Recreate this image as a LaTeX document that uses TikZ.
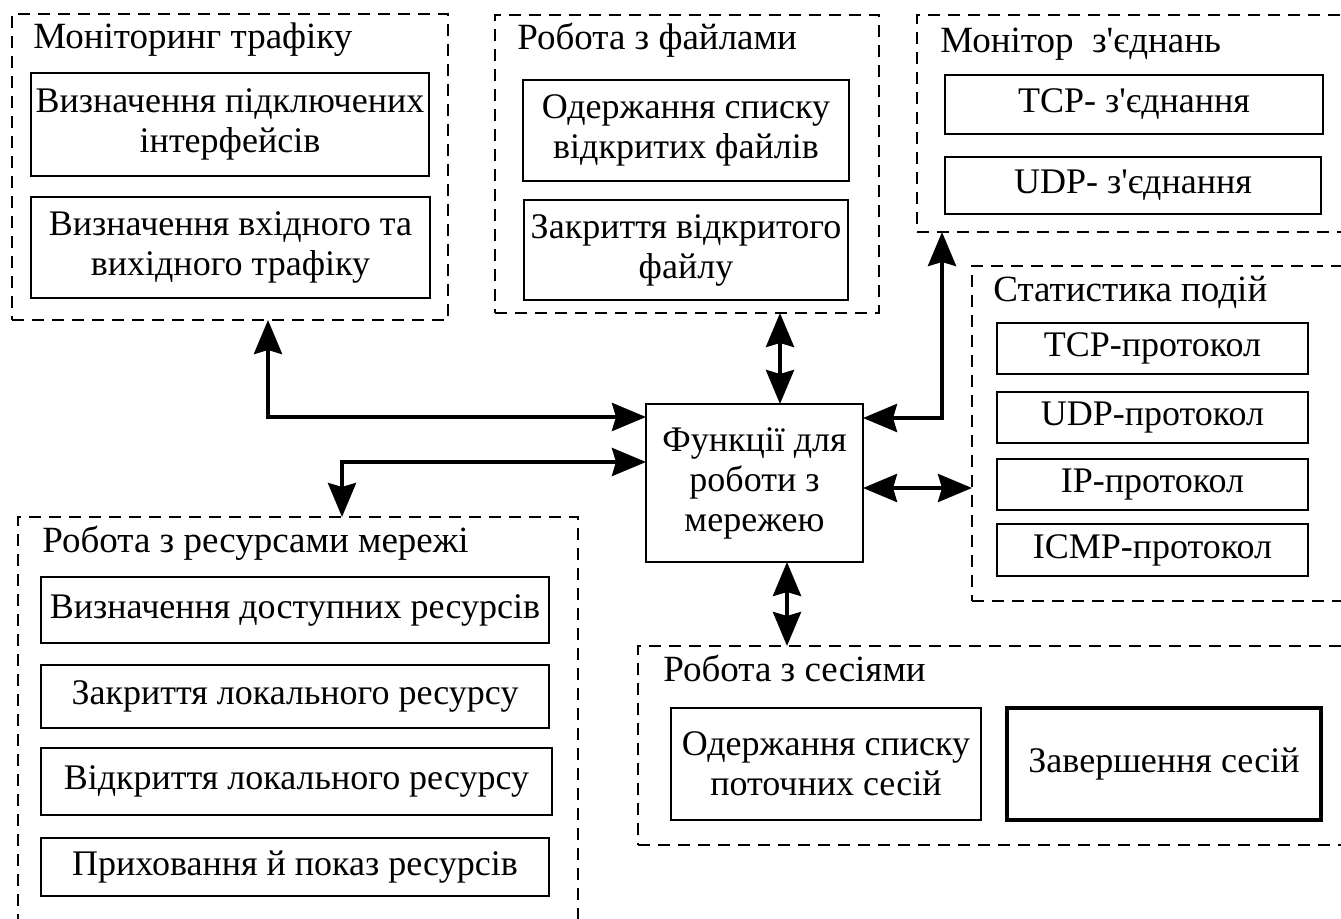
\documentclass[tikz,border=0pt]{standalone}
\usepackage{fontspec}
\setmainfont{Liberation Serif}
\usetikzlibrary{fit,arrows.meta}
\newcommand{\ap}{\textquotesingle}
\begin{document}
\begin{tikzpicture}[x=0.5pt,y=-0.5pt,
  txt/.style={font=\fontsize{18}{20}\selectfont, align=center, inner sep=0pt},
  frame/.style={draw, line width=1pt, dash pattern=on 6pt off 4pt, inner sep=0pt, outer sep=0pt},
  box/.style={draw, line width=1.3pt, inner sep=0pt, outer sep=0pt},
  title/.style={anchor=base west, inner sep=0pt, font=\fontsize{18.5}{20}\selectfont},
  arr/.style={line width=2pt, {Stealth[length=17pt,width=14pt,inset=2pt]}-{Stealth[length=17pt,width=14pt,inset=2pt]}}]
\path[use as bounding box, clip] (0,0) rectangle (1341,919);
\fill[white] (0,0) rectangle (1341,919);

% dashed groups
\node[frame, fit={(12,14) (448,320)}] (f1) {};
\node[frame, fit={(495,15) (879,313)}] (f2) {};
\node[frame, fit={(917,15) (1400,232)}] (f3) {};
\node[frame, fit={(972,266) (1400,601)}] (f4) {};
\node[frame, fit={(18,517) (578,1000)}] (f5) {};
\node[frame, fit={(638,646) (1400,845)}] (f6) {};

% group titles
\node[title] (t1) at (33,49) {Моніторинг трафіку};
\node[title] (t2) at (517,50) {Робота з файлами};
\node[title] (t3) at (940,53) {Монітор~~з\ap єднань};
\node[title] (t4) at (993,302) {Статистика подій};
\node[title] (t5) at (42,553) {Робота з ресурсами мережі};
\node[title] (t6) at (663,682) {Робота з сесіями};

% traffic monitoring
\node[box, fit={(31,73) (429,176)}] (b11) {};
\node[txt] (l11) at (b11) {Визначення підключених\\інтерфейсів};
\node[box, fit={(31,197) (430,298)}] (b12) {};
\node[txt] (l12) at (b12) {Визначення вхідного та\\вихідного трафіку};
% files
\node[box, fit={(523,80) (849,181)}] (b21) {};
\node[txt] (l21) at (b21) {Одержання списку\\відкритих файлів};
\node[box, fit={(524,200) (848,300)}] (b22) {};
\node[txt] (l22) at (b22) {Закриття відкритого\\файлу};
% connections
\node[box, fit={(945,75) (1323,134)}] (b31) {};
\node[txt] (l31) at (b31) {TCP- з\ap єднання};
\node[box, fit={(945,157) (1321,214)}] (b32) {};
\node[txt] (l32) at (b32) {UDP- з\ap єднання};
% event statistics
\node[box, fit={(997,323) (1308,374)}] (b41) {};
\node[txt] (l41) at (b41) {TCP-протокол};
\node[box, fit={(997,392) (1308,443)}] (b42) {};
\node[txt] (l42) at (b42) {UDP-протокол};
\node[box, fit={(997,459) (1308,510)}] (b43) {};
\node[txt] (l43) at (b43) {IP-протокол};
\node[box, fit={(997,524) (1308,576)}] (b44) {};
\node[txt] (l44) at (b44) {ICMP-протокол};
% network resources
\node[box, fit={(41,577) (549,643)}] (b51) {};
\node[txt] (l51) at (b51) {Визначення доступних ресурсів};
\node[box, fit={(41,665) (549,728)}] (b52) {};
\node[txt] (l52) at (b52) {Закриття локального ресурсу};
\node[box, fit={(41,748) (552,815)}] (b53) {};
\node[txt] (l53) at (b53) {Відкриття локального ресурсу};
\node[box, fit={(41,838) (549,896)}] (b54) {};
\node[txt] (l54) at (b54) {Приховання й показ ресурсів};
% sessions
\node[box, fit={(671,708) (981,820)}] (b61) {};
\node[txt] (l61) at (b61) {Одержання списку\\поточних сесій};
\node[box, line width=2pt, fit={(1007,708) (1321,820)}] (b62) {};
\node[txt] (l62) at (b62) {Завершення сесій};

% central block
\node[box, line width=1pt, fit={(646,404) (863,562)}] (ctr) {};
\node[txt] (lc) at (ctr) {Функції для\\роботи з\\мережею};

% connectors
\coordinate (p1) at ([xshift=128pt]f1.south west);
\coordinate (p2) at ([xshift=162pt]f5.north west);
\coordinate (p3) at ([xshift=12.75pt]ctr.north);
\coordinate (p4) at ([xshift=16.25pt]ctr.south);
\coordinate (p5) at ([xshift=12.5pt]f3.south west);
\draw[arr] (p1) |- ([yshift=33pt]ctr.west);
\draw[arr] ([yshift=10.5pt]ctr.west) -| (p2);
\draw[arr] (p3) -- (p3 |- f2.south);
\draw[arr] (p4) -- (p4 |- f6.north);
\draw[arr] ([yshift=-2.5pt]ctr.east) -- ([yshift=-2.5pt]ctr.east -| f4.west);
\draw[arr] ([yshift=32.5pt]ctr.east) -| (p5);
\end{tikzpicture}
\end{document}
